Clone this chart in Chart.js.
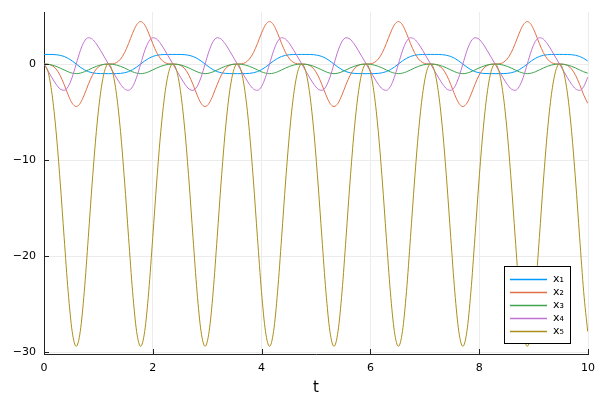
<!DOCTYPE html>
<html>
<head>
<meta charset="utf-8">
<script src="https://cdn.jsdelivr.net/npm/chart.js@4"></script>
<style>
  html, body { margin: 0; padding: 0; background: #fff; }
  #c { display: block; }
</style>
</head>
<body>
<canvas id="c" width="600" height="400"></canvas>
<script>
// sample times
const t = [
  0, 0.0740, 0.1481, 0.2221, 0.2961, 0.3702, 0.4442, 0.5182,
  0.5923, 0.6663, 0.7403, 0.8144, 0.8884, 0.9624, 1.0365, 1.1105,
  1.1845, 1.2586, 1.3326, 1.4066, 1.4807, 1.5547, 1.6287, 1.7028,
  1.7768, 1.8508, 1.9249, 1.9989, 2.0729, 2.1470, 2.2210, 2.2950,
  2.3690, 2.4431, 2.5171, 2.5911, 2.6652, 2.7392, 2.8132, 2.8873,
  2.9613, 3.0353, 3.1094, 3.1834, 3.2574, 3.3315, 3.4055, 3.4795,
  3.5536, 3.6276, 3.7016, 3.7757, 3.8497, 3.9237, 3.9978, 4.0718,
  4.1458, 4.2199, 4.2939, 4.3679, 4.4420, 4.5160, 4.5900, 4.6641,
  4.7381, 4.8121, 4.8862, 4.9602, 5.0342, 5.1083, 5.1823, 5.2563,
  5.3304, 5.4044, 5.4784, 5.5525, 5.6265, 5.7005, 5.7746, 5.8486,
  5.9226, 5.9967, 6.0707, 6.1447, 6.2188, 6.2928, 6.3668, 6.4409,
  6.5149, 6.5889, 6.6630, 6.7370, 6.8110, 6.8851, 6.9591, 7.0331,
  7.1071, 7.1812, 7.2552, 7.3292, 7.4033, 7.4773, 7.5513, 7.6254,
  7.6994, 7.7734, 7.8475, 7.9215, 7.9955, 8.0696, 8.1436, 8.2176,
  8.2917, 8.3657, 8.4397, 8.5138, 8.5878, 8.6618, 8.7359, 8.8099,
  8.8839, 8.9580, 9.0320, 9.1060, 9.1801, 9.2541, 9.3281, 9.4022,
  9.4762, 9.5502, 9.6243, 9.6983, 9.7723, 9.8464, 9.9204, 9.9944
];

const x1 = [
  1, 0.9996, 0.9942, 0.9711, 0.9102, 0.7891, 0.5913, 0.3191, 0, -0.3191, -0.5913, -0.7891, -0.9102, -0.9711, -0.9942, -0.9996,
  -1, -0.9996, -0.9942, -0.9711, -0.9102, -0.7891, -0.5913, -0.3191, 0, 0.3191, 0.5913, 0.7891, 0.9102, 0.9711, 0.9942, 0.9996,
  1, 0.9996, 0.9942, 0.9711, 0.9102, 0.7891, 0.5913, 0.3191, 0, -0.3191, -0.5913, -0.7891, -0.9102, -0.9711, -0.9942, -0.9996,
  -1, -0.9996, -0.9942, -0.9711, -0.9102, -0.7891, -0.5913, -0.3191, 0, 0.3191, 0.5913, 0.7891, 0.9102, 0.9711, 0.9942, 0.9996,
  1, 0.9996, 0.9942, 0.9711, 0.9102, 0.7891, 0.5913, 0.3191, 0, -0.3191, -0.5913, -0.7891, -0.9102, -0.9711, -0.9942, -0.9996,
  -1, -0.9996, -0.9942, -0.9711, -0.9102, -0.7891, -0.5913, -0.3191, 0, 0.3191, 0.5913, 0.7891, 0.9102, 0.9711, 0.9942, 0.9996,
  1, 0.9996, 0.9942, 0.9711, 0.9102, 0.7891, 0.5913, 0.3191, 0, -0.3191, -0.5913, -0.7891, -0.9102, -0.9711, -0.9942, -0.9996,
  -1, -0.9996, -0.9942, -0.9711, -0.9102, -0.7891, -0.5913, -0.3191, 0, 0.3191, 0.5913, 0.7891, 0.9102, 0.9711, 0.9942, 0.9996,
  1, 0.9996, 0.9942, 0.9711, 0.9102, 0.7891, 0.5913, 0.3191
];

const x2 = [
  0, -0.0195, -0.1552, -0.5169, -1.1802, -2.1315, -3.2063, -4.0845, -4.4272, -4.0845, -3.2063, -2.1315, -1.1802, -0.5169, -0.1552, -0.0195,
  0, 0.0195, 0.1552, 0.5169, 1.1802, 2.1315, 3.2063, 4.0845, 4.4272, 4.0845, 3.2063, 2.1315, 1.1802, 0.5169, 0.1552, 0.0195,
  0, -0.0195, -0.1552, -0.5169, -1.1802, -2.1315, -3.2063, -4.0845, -4.4272, -4.0845, -3.2063, -2.1315, -1.1802, -0.5169, -0.1552, -0.0195,
  0, 0.0195, 0.1552, 0.5169, 1.1802, 2.1315, 3.2063, 4.0845, 4.4272, 4.0845, 3.2063, 2.1315, 1.1802, 0.5169, 0.1552, 0.0195,
  0, -0.0195, -0.1552, -0.5169, -1.1802, -2.1315, -3.2063, -4.0845, -4.4272, -4.0845, -3.2063, -2.1315, -1.1802, -0.5169, -0.1552, -0.0195,
  0, 0.0195, 0.1552, 0.5169, 1.1802, 2.1315, 3.2063, 4.0845, 4.4272, 4.0845, 3.2063, 2.1315, 1.1802, 0.5169, 0.1552, 0.0195,
  0, -0.0195, -0.1552, -0.5169, -1.1802, -2.1315, -3.2063, -4.0845, -4.4272, -4.0845, -3.2063, -2.1315, -1.1802, -0.5169, -0.1552, -0.0195,
  0, 0.0195, 0.1552, 0.5169, 1.1802, 2.1315, 3.2063, 4.0845, 4.4272, 4.0845, 3.2063, 2.1315, 1.1802, 0.5169, 0.1552, 0.0195,
  0, -0.0195, -0.1552, -0.5169, -1.1802, -2.1315, -3.2063, -4.0845
];

const x3 = [
  0, -0.0269, -0.1071, -0.2389, -0.4142, -0.6143, -0.8065, -0.9477, -1, -0.9477, -0.8065, -0.6143, -0.4142, -0.2389, -0.1071, -0.0269,
  0, -0.0269, -0.1071, -0.2389, -0.4142, -0.6143, -0.8065, -0.9477, -1, -0.9477, -0.8065, -0.6143, -0.4142, -0.2389, -0.1071, -0.0269,
  0, -0.0269, -0.1071, -0.2389, -0.4142, -0.6143, -0.8065, -0.9477, -1, -0.9477, -0.8065, -0.6143, -0.4142, -0.2389, -0.1071, -0.0269,
  0, -0.0269, -0.1071, -0.2389, -0.4142, -0.6143, -0.8065, -0.9477, -1, -0.9477, -0.8065, -0.6143, -0.4142, -0.2389, -0.1071, -0.0269,
  0, -0.0269, -0.1071, -0.2389, -0.4142, -0.6143, -0.8065, -0.9477, -1, -0.9477, -0.8065, -0.6143, -0.4142, -0.2389, -0.1071, -0.0269,
  0, -0.0269, -0.1071, -0.2389, -0.4142, -0.6143, -0.8065, -0.9477, -1, -0.9477, -0.8065, -0.6143, -0.4142, -0.2389, -0.1071, -0.0269,
  0, -0.0269, -0.1071, -0.2389, -0.4142, -0.6143, -0.8065, -0.9477, -1, -0.9477, -0.8065, -0.6143, -0.4142, -0.2389, -0.1071, -0.0269,
  0, -0.0269, -0.1071, -0.2389, -0.4142, -0.6143, -0.8065, -0.9477, -1, -0.9477, -0.8065, -0.6143, -0.4142, -0.2389, -0.1071, -0.0269,
  0, -0.0269, -0.1071, -0.2389, -0.4142, -0.6143, -0.8065, -0.9477
];

const x4 = [
  0, -0.7256, -1.4407, -2.1012, -2.5935, -2.7380, -2.3510, -1.3754, 0, 1.3754, 2.3510, 2.7380, 2.5935, 2.1012, 1.4407, 0.7256,
  0, -0.7256, -1.4407, -2.1012, -2.5935, -2.7380, -2.3510, -1.3754, 0, 1.3754, 2.3510, 2.7380, 2.5935, 2.1012, 1.4407, 0.7256,
  0, -0.7256, -1.4407, -2.1012, -2.5935, -2.7380, -2.3510, -1.3754, 0, 1.3754, 2.3510, 2.7380, 2.5935, 2.1012, 1.4407, 0.7256,
  0, -0.7256, -1.4407, -2.1012, -2.5935, -2.7380, -2.3510, -1.3754, 0, 1.3754, 2.3510, 2.7380, 2.5935, 2.1012, 1.4407, 0.7256,
  0, -0.7256, -1.4407, -2.1012, -2.5935, -2.7380, -2.3510, -1.3754, 0, 1.3754, 2.3510, 2.7380, 2.5935, 2.1012, 1.4407, 0.7256,
  0, -0.7256, -1.4407, -2.1012, -2.5935, -2.7380, -2.3510, -1.3754, 0, 1.3754, 2.3510, 2.7380, 2.5935, 2.1012, 1.4407, 0.7256,
  0, -0.7256, -1.4407, -2.1012, -2.5935, -2.7380, -2.3510, -1.3754, 0, 1.3754, 2.3510, 2.7380, 2.5935, 2.1012, 1.4407, 0.7256,
  0, -0.7256, -1.4407, -2.1012, -2.5935, -2.7380, -2.3510, -1.3754, 0, 1.3754, 2.3510, 2.7380, 2.5935, 2.1012, 1.4407, 0.7256,
  0, -0.7256, -1.4407, -2.1012, -2.5935, -2.7380, -2.3510, -1.3754
];

const x5 = [
  0, -0.79, -3.15, -7.02, -12.18, -18.06, -23.71, -27.86, -29.4, -27.86, -23.71, -18.06, -12.18, -7.02, -3.15, -0.79,
  0, -0.79, -3.15, -7.02, -12.18, -18.06, -23.71, -27.86, -29.4, -27.86, -23.71, -18.06, -12.18, -7.02, -3.15, -0.79,
  0, -0.79, -3.15, -7.02, -12.18, -18.06, -23.71, -27.86, -29.4, -27.86, -23.71, -18.06, -12.18, -7.02, -3.15, -0.79,
  0, -0.79, -3.15, -7.02, -12.18, -18.06, -23.71, -27.86, -29.4, -27.86, -23.71, -18.06, -12.18, -7.02, -3.15, -0.79,
  0, -0.79, -3.15, -7.02, -12.18, -18.06, -23.71, -27.86, -29.4, -27.86, -23.71, -18.06, -12.18, -7.02, -3.15, -0.79,
  0, -0.79, -3.15, -7.02, -12.18, -18.06, -23.71, -27.86, -29.4, -27.86, -23.71, -18.06, -12.18, -7.02, -3.15, -0.79,
  0, -0.79, -3.15, -7.02, -12.18, -18.06, -23.71, -27.86, -29.4, -27.86, -23.71, -18.06, -12.18, -7.02, -3.15, -0.79,
  0, -0.79, -3.15, -7.02, -12.18, -18.06, -23.71, -27.86, -29.4, -27.86, -23.71, -18.06, -12.18, -7.02, -3.15, -0.79,
  0, -0.79, -3.15, -7.02, -12.18, -18.06, -23.71, -27.86
];

const seriesNames = ['x₁', 'x₂', 'x₃', 'x₄', 'x₅'];
const seriesColors = ['#009AFA', '#E36F47', '#3EA44E', '#C371D2', '#AC8E18'];
const xTicks = [0, 2, 4, 6, 8, 10];
const yTicks = [-30, -20, -10, 0];

const FONT = '"DejaVu Sans", sans-serif';
const axisColor = '#222';

const fmt = v => v < 0 ? '\u2212' + Math.abs(v) : String(v);

// Plots.jl style: inner tick marks + framed legend in lower right
const plotsDecor = {
    id: 'plotsDecor',
    afterDatasetsDraw(chart) {
        const { ctx, chartArea: a, scales } = chart;
        ctx.save();
        ctx.strokeStyle = axisColor;
        ctx.lineWidth = 1;
        ctx.beginPath();
        yTicks.forEach(v => {
            const y = Math.round(scales.y.getPixelForValue(v)) + 0.5;
            ctx.moveTo(a.left, y); ctx.lineTo(a.left + 5, y);
        });
        xTicks.forEach(v => {
            const x = Math.round(scales.x.getPixelForValue(v)) + 0.5;
            ctx.moveTo(x, a.bottom); ctx.lineTo(x, a.bottom - 5);
        });
        ctx.stroke();

        const w = 66, h = 77;
        const left = Math.round(a.right - 18 - w), top = Math.round(a.bottom - 11 - h);
        ctx.fillStyle = '#fff';
        ctx.fillRect(left, top, w, h);
        ctx.strokeStyle = '#000';
        ctx.strokeRect(left + 0.5, top + 0.5, w, h);
        ctx.font = '11px ' + FONT;
        ctx.textBaseline = 'middle';
        ctx.textAlign = 'left';
        chart.data.datasets.forEach((ds, i) => {
            const y = top + 13 + i * 13 + 0.5;
            ctx.strokeStyle = ds.borderColor;
            ctx.lineWidth = 1.3;
            ctx.beginPath();
            ctx.moveTo(left + 6, y); ctx.lineTo(left + 43, y);
            ctx.stroke();
            ctx.fillStyle = '#000';
            ctx.fillText(ds.label, left + 49, y);
        });
        ctx.restore();
    }
};

const series = [x1, x2, x3, x4, x5];

new Chart(document.getElementById('c'), {
    type: 'line',
    data: {
        datasets: series.map((arr, i) => ({
            label: seriesNames[i],
            data: t.map((tv, k) => ({ x: tv, y: arr[k] })),
            borderColor: seriesColors[i],
            borderWidth: 1,
            pointRadius: 0,
            cubicInterpolationMode: 'monotone',
            fill: false,
            order: 4 - i
        }))
    },
    options: {
        responsive: false,
        animation: false,
        devicePixelRatio: 1,
        layout: { padding: { left: 0, top: 12, right: 12, bottom: 0 } },
        plugins: { legend: { display: false }, tooltip: { enabled: false } },
        scales: {
            x: {
                type: 'linear', min: 0, max: 10,
                afterBuildTicks: s => { s.ticks = xTicks.map(v => ({ value: v })); },
                afterFit: s => { s.height = 46; s.paddingLeft = 0; s.paddingRight = 0; },
                grid: { color: '#ececec', lineWidth: 1, drawTicks: false },
                border: { display: true, color: axisColor, width: 1 },
                ticks: { color: '#000', padding: 8, maxRotation: 0, font: { family: FONT, size: 11 }, callback: v => fmt(v) },
                title: { display: true, text: 't', color: '#000', font: { family: FONT, size: 15 }, padding: { top: 0, bottom: 3 } }
            },
            y: {
                type: 'linear', min: -30.2, max: 5.42,
                afterBuildTicks: s => { s.ticks = yTicks.map(v => ({ value: v })); },
                afterFit: s => { s.width = 44; s.paddingTop = 0; s.paddingBottom = 0; },
                grid: { color: '#ececec', lineWidth: 1, drawTicks: false },
                border: { display: true, color: axisColor, width: 1 },
                ticks: { color: '#000', padding: 8, font: { family: FONT, size: 11 }, callback: v => fmt(v) }
            }
        }
    },
    plugins: [plotsDecor]
});
</script>
</body>
</html>
